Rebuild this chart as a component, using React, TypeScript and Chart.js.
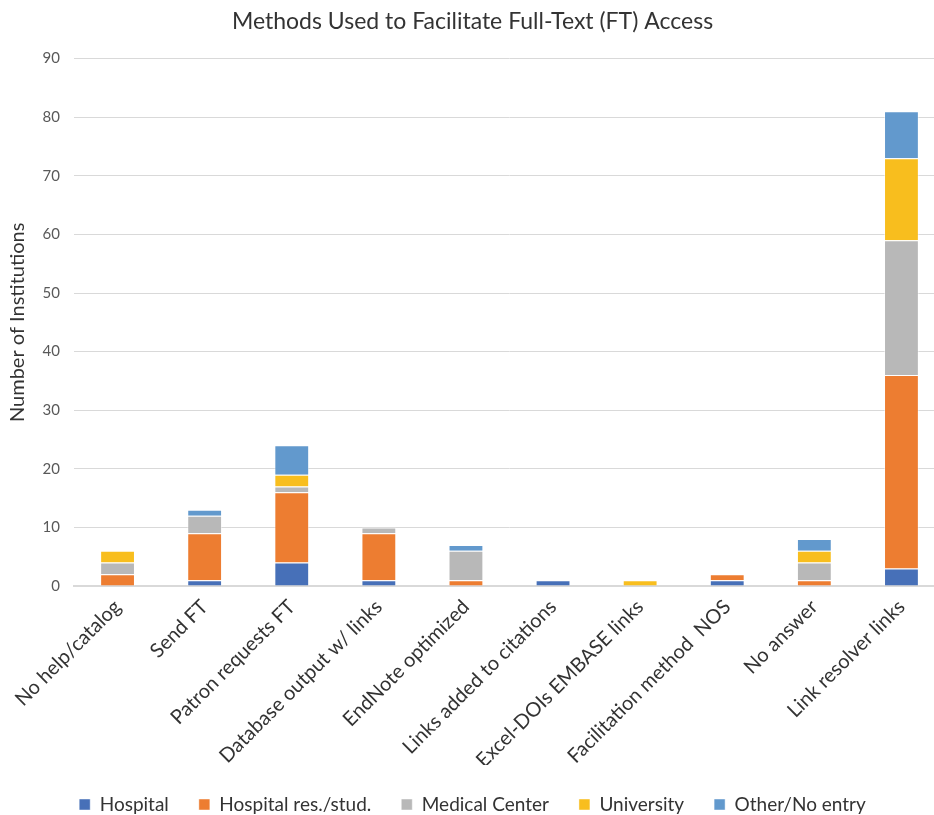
import React, { useEffect, useRef } from "react";
import { Chart, registerables } from "chart.js";

Chart.register(...registerables);

const categories = [
  "No help/catalog",
  "Send FT",
  "Patron requests FT",
  "Database output w/ links",
  "EndNote optimized",
  "Links added to citations",
  "Excel-DOIs EMBASE links",
  "Facilitation method  NOS",
  "No answer",
  "Link resolver links",
];

const hospital = [0, 1, 4, 1, 0, 1, 0, 1, 0, 3];
const hospitalResStud = [2, 8, 12, 8, 1, 0, 0, 1, 1, 33];
const medicalCenter = [2, 3, 1, 1, 5, 0, 0, 0, 3, 23];
const university = [2, 0, 2, 0, 0, 0, 1, 0, 2, 14];
const otherNoEntry = [0, 1, 5, 0, 1, 0, 0, 0, 2, 8];

const yTicks = [0, 10, 20, 30, 40, 50, 60, 70, 80, 90];

const FONT = "Lato, 'Open Sans', sans-serif";

export default function App() {
  const canvasRef = useRef<HTMLCanvasElement | null>(null);

  useEffect(() => {
    const canvas = canvasRef.current;
    if (!canvas) return;
    const mk = (label: string, data: number[], color: string) => ({
      label,
      data,
      backgroundColor: color,
      borderColor: "rgba(255,255,255,0.45)",
      borderWidth: 1,
      barPercentage: 0.4,
      categoryPercentage: 1,
    });
    const chart = new Chart(canvas, {
      type: "bar",
      data: {
        labels: categories,
        datasets: [
          mk("Hospital", hospital, "#4770B8"),
          mk("Hospital res./stud.", hospitalResStud, "#ED7D31"),
          mk("Medical Center", medicalCenter, "#B8B8B8"),
          mk("University", university, "#F8BE1E"),
          mk("Other/No entry", otherNoEntry, "#6299CD"),
        ],
      },
      options: {
        responsive: false,
        animation: false,
        devicePixelRatio: 1,
        layout: { padding: { left: 0, right: 5, top: 0, bottom: 0 } },
        plugins: {
          title: {
            display: true,
            text: "Methods Used to Facilitate Full-Text (FT) Access",
            color: "#333333",
            font: { family: FONT, size: 23, weight: "normal" },
            padding: { top: 8, bottom: 23 },
          },
          legend: {
            position: "bottom",
            labels: {
              boxWidth: 11,
              boxHeight: 11,
              padding: 30,
              color: "#333333",
              font: { family: FONT, size: 19 },
            },
          },
          tooltip: { enabled: false },
        },
        scales: {
          x: {
            stacked: true,
            grid: { display: false, drawTicks: false },
            border: { display: true, color: "#D9D9D9", width: 2 },
            ticks: {
              minRotation: 45,
              maxRotation: 45,
              autoSkip: false,
              color: "#333333",
              font: { family: FONT, size: 20 },
              padding: 9,
            },
            afterFit: (scale: any) => {
              scale.height = 179;
            },
          },
          y: {
            stacked: true,
            min: 0,
            max: 90,
            afterBuildTicks: (scale: any) => {
              scale.ticks = yTicks.map((v) => ({ value: v }));
            },
            grid: { color: "#D9D9D9", lineWidth: 1, drawTicks: false },
            border: { display: false },
            ticks: {
              color: "#595959",
              font: { family: FONT, size: 15 },
              padding: 14,
            },
            title: {
              display: true,
              text: "Number of Institutions",
              color: "#333333",
              font: { family: FONT, size: 20 },
              padding: { top: 6, bottom: 0 },
            },
            afterFit: (scale: any) => {
              scale.width = 74;
            },
          },
        },
      },
    } as any);
    return () => chart.destroy();
  }, []);

  return (
    <div
      style={{
        position: "absolute",
        left: 0,
        top: 0,
        width: 934,
        height: 815,
        overflow: "hidden",
        background: "#ffffff",
      }}
    >
      <canvas ref={canvasRef} width={950} height={824} style={{ display: "block" }} />
    </div>
  );
}
